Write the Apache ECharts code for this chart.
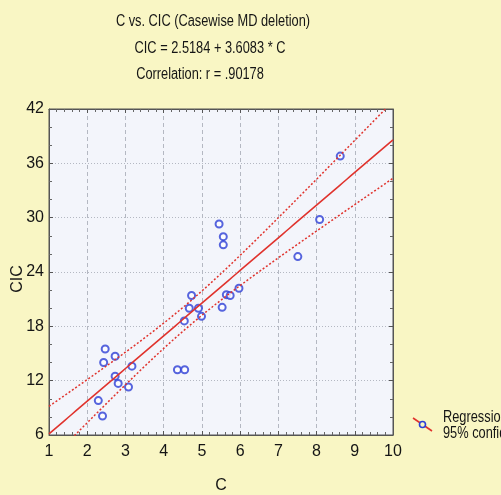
<!DOCTYPE html>
<html>
<head>
<meta charset="utf-8">
<script src="https://cdn.jsdelivr.net/npm/echarts@6/dist/echarts.min.js"></script>
<style>
  html, body { margin: 0; padding: 0; background: #f9f6c4; }
  #chart { width: 501px; height: 495px; }
</style>
</head>
<body>
<div id="chart"></div>
<script>
// C values and matching CIC values (casewise deletion of missing data)
var cValues   = [2.47, 2.43, 2.73, 3.17, 2.73, 2.81, 3.08, 2.29, 2.40,
                 4.36, 4.55, 4.54, 4.67, 4.73, 4.91, 4.99,
                 5.53, 5.64, 5.74, 5.97, 5.45, 5.56, 5.56,
                 8.62, 8.08, 7.51];
var cicValues = [15.5, 14.0, 14.7, 13.6, 12.5, 11.7, 11.3, 9.8, 8.1,
                 13.2, 13.2, 18.6, 20.0, 21.4, 20.0, 19.1,
                 20.1, 21.5, 21.4, 22.2, 29.3, 27.9, 27.0,
                 36.8, 29.8, 25.7];

// Fitted line: CIC = 2.5184 + 3.6083 * C
var intercept = 2.5184;
var slope = 3.6083;

var titleLines = ['C vs. CIC (Casewise MD deletion)',
                  'CIC = 2.5184 + 3.6083 * C',
                  'Correlation: r = .90178'];
var legendLabels = ['Regression', '95% confid'];
var xName = 'C';
var yName = 'CIC';

var xTicks = [1, 2, 3, 4, 5, 6, 7, 8, 9, 10];
var yTicks = [6, 12, 18, 24, 30, 36, 42];

// 95% confidence band of the mean response
var n = cValues.length;
var xMean = cValues.reduce(function (a, b) { return a + b; }, 0) / n;
var sxx = 0, sse = 0;
for (var i = 0; i < n; i++) {
  sxx += Math.pow(cValues[i] - xMean, 2);
  sse += Math.pow(cicValues[i] - (intercept + slope * cValues[i]), 2);
}
var sRes = Math.sqrt(sse / (n - 2));
var tCrit = 2.064;
var fitLine = [], upperBand = [], lowerBand = [];
for (var k = 0; k <= 90; k++) {
  var xv = xTicks[0] + k * (xTicks[xTicks.length - 1] - xTicks[0]) / 90;
  var yv = intercept + slope * xv;
  var hw = tCrit * sRes * Math.sqrt(1 / n + Math.pow(xv - xMean, 2) / sxx);
  fitLine.push([xv, yv]);
  upperBand.push([xv, yv + hw]);
  lowerBand.push([xv, yv - hw]);
}
var points = cValues.map(function (c, i) { return [c, cicValues[i]]; });

var FONT = "'Liberation Sans', Arial, sans-serif";
var INK = '#151515';
var RED = '#e0332d';
var BLUE = '#2d3fd6';
var NARROW = 0.8;   // horizontal squeeze for a condensed look

var chart = echarts.init(document.getElementById('chart'));

var tickStyle = { show: true, inside: true, length: 4, lineStyle: { color: '#555', width: 1 } };
var minorX = { show: true, splitNumber: 5, length: 3, lineStyle: { color: '#666' } };
var minorY = { show: true, splitNumber: 3, length: 3, lineStyle: { color: '#666' } };

function narrowText(text, x, y, align) {
  return {
    type: 'text', x: x, y: y, scaleX: NARROW,
    style: { text: text, fontFamily: FONT, fontSize: 16, fill: INK,
             textAlign: align, textVerticalAlign: 'middle' }
  };
}

var graphics = [
  narrowText(titleLines[0], 213, 22, 'center'),
  narrowText(titleLines[1], 210, 49, 'center'),
  narrowText(titleLines[2], 200, 75, 'center'),
  // vertical axis title, rotated
  { type: 'text', x: 18, y: 279, rotation: Math.PI / 2,
    style: { text: yName, fontFamily: FONT, fontSize: 16, fill: INK,
             textAlign: 'center', textVerticalAlign: 'middle' } },
  { type: 'line', shape: { x1: 413, y1: 418, x2: 432, y2: 431 },
    style: { stroke: RED, lineWidth: 1.6 } },
  { type: 'circle', shape: { cx: 422.5, cy: 424.5, r: 3 },
    style: { fill: '#f9f6c4', stroke: BLUE, lineWidth: 1.6 } },
  narrowText(legendLabels[0], 443, 418, 'left'),
  narrowText(legendLabels[1], 443, 434, 'left')
];

chart.setOption({
  backgroundColor: '#f9f6c4',
  animation: false,
  grid: { left: 49, top: 109, right: 108, bottom: 60, show: true,
          outerBoundsMode: 'none', containLabel: false,
          backgroundColor: '#f3f5fb', borderColor: '#555', borderWidth: 1 },
  xAxis: [{
    type: 'value', min: xTicks[0], max: xTicks[xTicks.length - 1], interval: 1,
    name: xName, nameLocation: 'middle', nameGap: 43,
    nameTextStyle: { fontFamily: FONT, fontSize: 16, color: INK },
    axisLine: { show: true, lineStyle: { color: '#555' } },
    axisTick: tickStyle, minorTick: minorX,
    axisLabel: { fontFamily: FONT, fontSize: 16, color: INK, margin: 9 },
    splitLine: { show: true, lineStyle: { color: '#b4b8c2', type: [4, 3] } }
  }, {
    type: 'value', position: 'top', min: xTicks[0], max: xTicks[xTicks.length - 1], interval: 1,
    axisLine: { show: true, lineStyle: { color: '#555' } },
    axisTick: tickStyle, minorTick: minorX,
    axisLabel: { show: false }, splitLine: { show: false }
  }],
  yAxis: [{
    type: 'value', min: yTicks[0], max: yTicks[yTicks.length - 1], interval: 6,
    axisLine: { show: true, lineStyle: { color: '#555' } },
    axisTick: tickStyle, minorTick: minorY,
    axisLabel: { fontFamily: FONT, fontSize: 16, color: INK, margin: 5 },
    splitLine: { show: true, lineStyle: { color: '#b4b8c2', type: [1, 2] } }
  }, {
    type: 'value', position: 'right', min: yTicks[0], max: yTicks[yTicks.length - 1], interval: 6,
    axisLine: { show: true, lineStyle: { color: '#555' } },
    axisTick: tickStyle, minorTick: minorY,
    axisLabel: { show: false }, splitLine: { show: false }
  }],
  series: [{
    type: 'line', data: upperBand, showSymbol: false, silent: true, clip: true,
    lineStyle: { color: RED, width: 1.5, type: [2, 2] }
  }, {
    type: 'line', data: lowerBand, showSymbol: false, silent: true, clip: true,
    lineStyle: { color: RED, width: 1.5, type: [2, 2] }
  }, {
    type: 'line', data: fitLine, showSymbol: false, silent: true, clip: true,
    lineStyle: { color: RED, width: 1.6 }
  }, {
    type: 'scatter', data: points, symbol: 'emptyCircle', symbolSize: 7,
    itemStyle: { color: BLUE, borderColor: BLUE, borderWidth: 1.6 }
  }],
  graphic: graphics
});
</script>
</body>
</html>
